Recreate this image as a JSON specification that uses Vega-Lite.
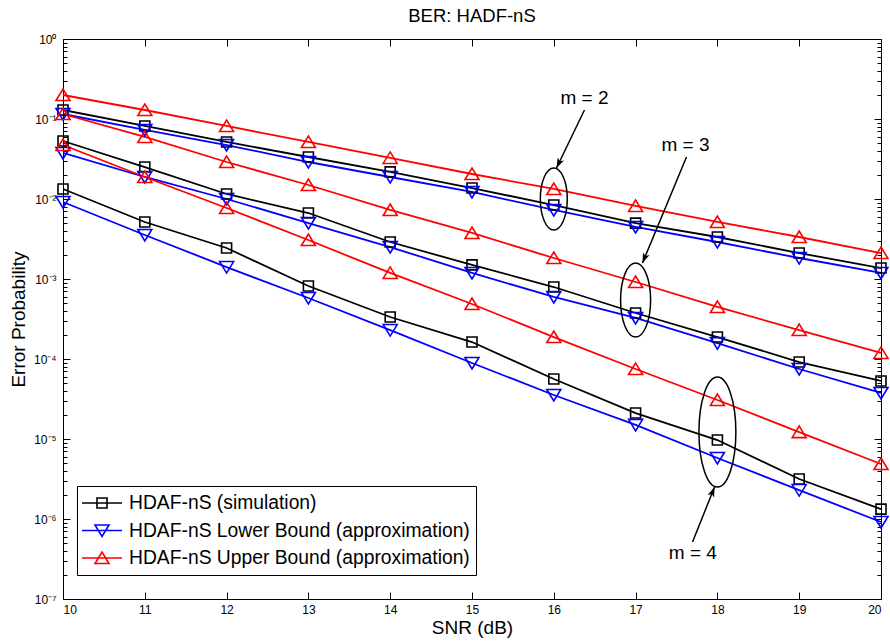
{
  "$schema": "https://vega.github.io/schema/vega-lite/v6.json",
  "width": 818,
  "height": 560,
  "autosize": {"type": "none"},
  "padding": {"left": 63, "top": 39, "right": 8, "bottom": 44},
  "title": {"text": "BER: HADF-nS", "fontSize": 18.5, "fontWeight": "normal", "color": "black", "offset": 8},
  "config": {
    "font": "Liberation Sans",
    "view": {"stroke": "black", "strokeWidth": 1},
    "axis": {"domain": false, "grid": false, "tickColor": "black", "tickWidth": 1, "labelColor": "black", "titleColor": "black", "labelFontSize": 12, "titleFontSize": 19, "titleFontWeight": "normal"}
  },
  "datasets": {
    "curves": [
      {"curve": "HDAF-nS (simulation)", "m": 2, "snr": 10, "ber": 0.1296},
      {"curve": "HDAF-nS (simulation)", "m": 2, "snr": 11, "ber": 0.0818},
      {"curve": "HDAF-nS (simulation)", "m": 2, "snr": 12, "ber": 0.0516},
      {"curve": "HDAF-nS (simulation)", "m": 2, "snr": 13, "ber": 0.0335},
      {"curve": "HDAF-nS (simulation)", "m": 2, "snr": 14, "ber": 0.0218},
      {"curve": "HDAF-nS (simulation)", "m": 2, "snr": 15, "ber": 0.0137},
      {"curve": "HDAF-nS (simulation)", "m": 2, "snr": 16, "ber": 0.0084},
      {"curve": "HDAF-nS (simulation)", "m": 2, "snr": 17, "ber": 0.0050},
      {"curve": "HDAF-nS (simulation)", "m": 2, "snr": 18, "ber": 0.00335},
      {"curve": "HDAF-nS (simulation)", "m": 2, "snr": 19, "ber": 0.00211},
      {"curve": "HDAF-nS (simulation)", "m": 2, "snr": 20, "ber": 0.00137},
      {"curve": "HDAF-nS (simulation)", "m": 3, "snr": 10, "ber": 0.0531},
      {"curve": "HDAF-nS (simulation)", "m": 3, "snr": 11, "ber": 0.0251},
      {"curve": "HDAF-nS (simulation)", "m": 3, "snr": 12, "ber": 0.01155},
      {"curve": "HDAF-nS (simulation)", "m": 3, "snr": 13, "ber": 0.00668},
      {"curve": "HDAF-nS (simulation)", "m": 3, "snr": 14, "ber": 0.0029},
      {"curve": "HDAF-nS (simulation)", "m": 3, "snr": 15, "ber": 0.0015},
      {"curve": "HDAF-nS (simulation)", "m": 3, "snr": 16, "ber": 0.000794},
      {"curve": "HDAF-nS (simulation)", "m": 3, "snr": 17, "ber": 0.000376},
      {"curve": "HDAF-nS (simulation)", "m": 3, "snr": 18, "ber": 0.000188},
      {"curve": "HDAF-nS (simulation)", "m": 3, "snr": 19, "ber": 0.0000917},
      {"curve": "HDAF-nS (simulation)", "m": 3, "snr": 20, "ber": 0.0000531},
      {"curve": "HDAF-nS (simulation)", "m": 4, "snr": 10, "ber": 0.01334},
      {"curve": "HDAF-nS (simulation)", "m": 4, "snr": 11, "ber": 0.00516},
      {"curve": "HDAF-nS (simulation)", "m": 4, "snr": 12, "ber": 0.00244},
      {"curve": "HDAF-nS (simulation)", "m": 4, "snr": 13, "ber": 0.000818},
      {"curve": "HDAF-nS (simulation)", "m": 4, "snr": 14, "ber": 0.000335},
      {"curve": "HDAF-nS (simulation)", "m": 4, "snr": 15, "ber": 0.000163},
      {"curve": "HDAF-nS (simulation)", "m": 4, "snr": 16, "ber": 0.0000562},
      {"curve": "HDAF-nS (simulation)", "m": 4, "snr": 17, "ber": 0.0000211},
      {"curve": "HDAF-nS (simulation)", "m": 4, "snr": 18, "ber": 0.0000097},
      {"curve": "HDAF-nS (simulation)", "m": 4, "snr": 19, "ber": 0.00000316},
      {"curve": "HDAF-nS (simulation)", "m": 4, "snr": 20, "ber": 0.00000133},
      {"curve": "HDAF-nS Lower Bound (approximation)", "m": 2, "snr": 10, "ber": 0.1155},
      {"curve": "HDAF-nS Lower Bound (approximation)", "m": 2, "snr": 11, "ber": 0.0729},
      {"curve": "HDAF-nS Lower Bound (approximation)", "m": 2, "snr": 12, "ber": 0.0473},
      {"curve": "HDAF-nS Lower Bound (approximation)", "m": 2, "snr": 13, "ber": 0.0290},
      {"curve": "HDAF-nS Lower Bound (approximation)", "m": 2, "snr": 14, "ber": 0.01884},
      {"curve": "HDAF-nS Lower Bound (approximation)", "m": 2, "snr": 15, "ber": 0.01224},
      {"curve": "HDAF-nS Lower Bound (approximation)", "m": 2, "snr": 16, "ber": 0.00729},
      {"curve": "HDAF-nS Lower Bound (approximation)", "m": 2, "snr": 17, "ber": 0.00447},
      {"curve": "HDAF-nS Lower Bound (approximation)", "m": 2, "snr": 18, "ber": 0.0029},
      {"curve": "HDAF-nS Lower Bound (approximation)", "m": 2, "snr": 19, "ber": 0.00183},
      {"curve": "HDAF-nS Lower Bound (approximation)", "m": 2, "snr": 20, "ber": 0.00119},
      {"curve": "HDAF-nS Lower Bound (approximation)", "m": 3, "snr": 10, "ber": 0.0376},
      {"curve": "HDAF-nS Lower Bound (approximation)", "m": 3, "snr": 11, "ber": 0.01884},
      {"curve": "HDAF-nS Lower Bound (approximation)", "m": 3, "snr": 12, "ber": 0.01},
      {"curve": "HDAF-nS Lower Bound (approximation)", "m": 3, "snr": 13, "ber": 0.00501},
      {"curve": "HDAF-nS Lower Bound (approximation)", "m": 3, "snr": 14, "ber": 0.00251},
      {"curve": "HDAF-nS Lower Bound (approximation)", "m": 3, "snr": 15, "ber": 0.00119},
      {"curve": "HDAF-nS Lower Bound (approximation)", "m": 3, "snr": 16, "ber": 0.000596},
      {"curve": "HDAF-nS Lower Bound (approximation)", "m": 3, "snr": 17, "ber": 0.000326},
      {"curve": "HDAF-nS Lower Bound (approximation)", "m": 3, "snr": 18, "ber": 0.000158},
      {"curve": "HDAF-nS Lower Bound (approximation)", "m": 3, "snr": 19, "ber": 0.000075},
      {"curve": "HDAF-nS Lower Bound (approximation)", "m": 3, "snr": 20, "ber": 0.0000376},
      {"curve": "HDAF-nS Lower Bound (approximation)", "m": 4, "snr": 10, "ber": 0.00917},
      {"curve": "HDAF-nS Lower Bound (approximation)", "m": 4, "snr": 11, "ber": 0.00355},
      {"curve": "HDAF-nS Lower Bound (approximation)", "m": 4, "snr": 12, "ber": 0.00141},
      {"curve": "HDAF-nS Lower Bound (approximation)", "m": 4, "snr": 13, "ber": 0.000579},
      {"curve": "HDAF-nS Lower Bound (approximation)", "m": 4, "snr": 14, "ber": 0.00023},
      {"curve": "HDAF-nS Lower Bound (approximation)", "m": 4, "snr": 15, "ber": 0.0000891},
      {"curve": "HDAF-nS Lower Bound (approximation)", "m": 4, "snr": 16, "ber": 0.0000355},
      {"curve": "HDAF-nS Lower Bound (approximation)", "m": 4, "snr": 17, "ber": 0.000015},
      {"curve": "HDAF-nS Lower Bound (approximation)", "m": 4, "snr": 18, "ber": 0.00000579},
      {"curve": "HDAF-nS Lower Bound (approximation)", "m": 4, "snr": 19, "ber": 0.0000023},
      {"curve": "HDAF-nS Lower Bound (approximation)", "m": 4, "snr": 20, "ber": 0.000000917},
      {"curve": "HDAF-nS Upper Bound (approximation)", "m": 2, "snr": 10, "ber": 0.1995},
      {"curve": "HDAF-nS Upper Bound (approximation)", "m": 2, "snr": 11, "ber": 0.1296},
      {"curve": "HDAF-nS Upper Bound (approximation)", "m": 2, "snr": 12, "ber": 0.0818},
      {"curve": "HDAF-nS Upper Bound (approximation)", "m": 2, "snr": 13, "ber": 0.0516},
      {"curve": "HDAF-nS Upper Bound (approximation)", "m": 2, "snr": 14, "ber": 0.0326},
      {"curve": "HDAF-nS Upper Bound (approximation)", "m": 2, "snr": 15, "ber": 0.02054},
      {"curve": "HDAF-nS Upper Bound (approximation)", "m": 2, "snr": 16, "ber": 0.01334},
      {"curve": "HDAF-nS Upper Bound (approximation)", "m": 2, "snr": 17, "ber": 0.00818},
      {"curve": "HDAF-nS Upper Bound (approximation)", "m": 2, "snr": 18, "ber": 0.00516},
      {"curve": "HDAF-nS Upper Bound (approximation)", "m": 2, "snr": 19, "ber": 0.00335},
      {"curve": "HDAF-nS Upper Bound (approximation)", "m": 2, "snr": 20, "ber": 0.00211},
      {"curve": "HDAF-nS Upper Bound (approximation)", "m": 3, "snr": 10, "ber": 0.1155},
      {"curve": "HDAF-nS Upper Bound (approximation)", "m": 3, "snr": 11, "ber": 0.0596},
      {"curve": "HDAF-nS Upper Bound (approximation)", "m": 3, "snr": 12, "ber": 0.0290},
      {"curve": "HDAF-nS Upper Bound (approximation)", "m": 3, "snr": 13, "ber": 0.01496},
      {"curve": "HDAF-nS Upper Bound (approximation)", "m": 3, "snr": 14, "ber": 0.00729},
      {"curve": "HDAF-nS Upper Bound (approximation)", "m": 3, "snr": 15, "ber": 0.00376},
      {"curve": "HDAF-nS Upper Bound (approximation)", "m": 3, "snr": 16, "ber": 0.00183},
      {"curve": "HDAF-nS Upper Bound (approximation)", "m": 3, "snr": 17, "ber": 0.000917},
      {"curve": "HDAF-nS Upper Bound (approximation)", "m": 3, "snr": 18, "ber": 0.000447},
      {"curve": "HDAF-nS Upper Bound (approximation)", "m": 3, "snr": 19, "ber": 0.00023},
      {"curve": "HDAF-nS Upper Bound (approximation)", "m": 3, "snr": 20, "ber": 0.000119},
      {"curve": "HDAF-nS Upper Bound (approximation)", "m": 4, "snr": 10, "ber": 0.0473},
      {"curve": "HDAF-nS Upper Bound (approximation)", "m": 4, "snr": 11, "ber": 0.01884},
      {"curve": "HDAF-nS Upper Bound (approximation)", "m": 4, "snr": 12, "ber": 0.00772},
      {"curve": "HDAF-nS Upper Bound (approximation)", "m": 4, "snr": 13, "ber": 0.00307},
      {"curve": "HDAF-nS Upper Bound (approximation)", "m": 4, "snr": 14, "ber": 0.00119},
      {"curve": "HDAF-nS Upper Bound (approximation)", "m": 4, "snr": 15, "ber": 0.000487},
      {"curve": "HDAF-nS Upper Bound (approximation)", "m": 4, "snr": 16, "ber": 0.000188},
      {"curve": "HDAF-nS Upper Bound (approximation)", "m": 4, "snr": 17, "ber": 0.000075},
      {"curve": "HDAF-nS Upper Bound (approximation)", "m": 4, "snr": 18, "ber": 0.0000307},
      {"curve": "HDAF-nS Upper Bound (approximation)", "m": 4, "snr": 19, "ber": 0.0000122},
      {"curve": "HDAF-nS Upper Bound (approximation)", "m": 4, "snr": 20, "ber": 0.00000487}
    ]
  },
  "resolve": {"scale": {"shape": "independent"}, "axis": {"x": "independent", "y": "independent"}},
  "layer": [
    {
      "data": {"name": "curves"},
      "mark": {"type": "line", "strokeWidth": 1.8},
      "encoding": {
        "x": {"field": "snr", "type": "quantitative", "scale": {"domain": [10, 20], "nice": false, "zero": false},
              "axis": {"orient": "bottom", "values": [10, 11, 12, 13, 14, 15, 16, 17, 18, 19, 20], "format": "d", "tickSize": -7, "labelPadding": 12.5, "title": "SNR (dB)", "titlePadding": 3}},
        "y": {"field": "ber", "type": "quantitative", "scale": {"type": "log", "domain": [1e-7, 1], "nice": false},
              "axis": {"orient": "left", "values": [1e-7, 1e-6, 1e-5, 1e-4, 1e-3, 1e-2, 1e-1, 1], "tickSize": -7, "labelPadding": 14,
                       "labelExpr": "'10' + ['⁰','⁻¹','⁻²','⁻³','⁻⁴','⁻⁵','⁻⁶','⁻⁷'][round(-log(datum.value)/LN10)]",
                       "title": "Error Probability", "titlePadding": 5}},
        "color": {"field": "curve", "type": "nominal",
                  "scale": {"domain": ["HDAF-nS (simulation)", "HDAF-nS Lower Bound (approximation)", "HDAF-nS Upper Bound (approximation)"], "range": ["#000000", "#0000ff", "#ff0000"]},
                  "legend": {"title": null, "orient": "none", "legendX": 14, "legendY": 447, "strokeColor": "black", "fillColor": "white", "padding": 6,
                             "labelFontSize": 19.3, "labelColor": "black", "labelLimit": 600, "symbolSize": 400, "symbolOffset": 8, "labelOffset": 16, "rowPadding": 5.5,
                             "symbolStrokeWidth": 1.5,
                             "encode": {"symbols": {"update": {
                               "shape": {"signal": "datum.value === 'HDAF-nS (simulation)' ? 'M-2,0H2M-0.5,-0.5H0.5V0.5H-0.5Z' : datum.value === 'HDAF-nS Lower Bound (approximation)' ? 'M-2,0H2M-0.7,-0.55H0.7L0,0.6Z' : 'M-2,0H2M-0.7,0.55H0.7L0,-0.6Z'"},
                               "fill": {"value": "transparent"},
                               "strokeWidth": {"value": 1.6}}}}}},
        "detail": {"field": "m", "type": "nominal"}
      }
    },
    {
      "data": {"name": "curves"},
      "mark": {"type": "point", "filled": false, "strokeWidth": 1.6, "size": 400, "opacity": 1},
      "encoding": {
        "x": {"field": "snr", "type": "quantitative", "scale": {"domain": [10, 20], "nice": false, "zero": false},
              "axis": {"orient": "top", "values": [10, 11, 12, 13, 14, 15, 16, 17, 18, 19, 20], "tickSize": -7, "labels": false, "title": null}},
        "y": {"field": "ber", "type": "quantitative", "scale": {"type": "log", "domain": [1e-7, 1], "nice": false},
              "axis": {"orient": "right", "values": [1e-7, 1e-6, 1e-5, 1e-4, 1e-3, 1e-2, 1e-1, 1], "tickSize": -7, "labels": false, "title": null}},
        "color": {"field": "curve", "type": "nominal"},
        "shape": {"field": "curve", "type": "nominal", "legend": null,
                  "scale": {"domain": ["HDAF-nS (simulation)", "HDAF-nS Lower Bound (approximation)", "HDAF-nS Upper Bound (approximation)"],
                            "range": ["M-0.5,-0.5H0.5V0.5H-0.5Z", "M-0.7,-0.55H0.7L0,0.6Z", "M-0.7,0.55H0.7L0,-0.6Z"]}}
      }
    },
    {
      "data": {"values": [
        {"group": "m = 2", "snr": 16, "ber": 0.01},
        {"group": "m = 3", "snr": 17, "ber": 0.000546},
        {"group": "m = 4", "snr": 18, "ber": 0.0000122}
      ]},
      "mark": {"type": "point", "filled": false, "stroke": "black", "strokeWidth": 1.5, "size": 12100, "opacity": 1},
      "encoding": {
        "x": {"field": "snr", "type": "quantitative", "scale": {"domain": [10, 20], "nice": false, "zero": false}, "axis": null},
        "y": {"field": "ber", "type": "quantitative", "scale": {"type": "log", "domain": [1e-7, 1], "nice": false},
              "axis": {"orient": "left", "tickSize": -4, "labels": false, "title": null,
                       "values": [2e-7,3e-7,4e-7,5e-7,6e-7,7e-7,8e-7,9e-7,2e-6,3e-6,4e-6,5e-6,6e-6,7e-6,8e-6,9e-6,2e-5,3e-5,4e-5,5e-5,6e-5,7e-5,8e-5,9e-5,2e-4,3e-4,4e-4,5e-4,6e-4,7e-4,8e-4,9e-4,2e-3,3e-3,4e-3,5e-3,6e-3,7e-3,8e-3,9e-3,0.02,0.03,0.04,0.05,0.06,0.07,0.08,0.09,0.2,0.3,0.4,0.5,0.6,0.7,0.8,0.9]}},
        "shape": {"field": "group", "type": "nominal", "legend": null,
                  "scale": {"domain": ["m = 2", "m = 3", "m = 4"],
                            "range": [
                              "M0,-0.564C0.135,-0.564 0.245,-0.312 0.245,0C0.245,0.312 0.135,0.564 0,0.564C-0.135,0.564 -0.245,0.312 -0.245,0C-0.245,-0.312 -0.135,-0.564 0,-0.564Z",
                              "M0,-0.673C0.151,-0.673 0.273,-0.372 0.273,0C0.273,0.372 0.151,0.673 0,0.673C-0.151,0.673 -0.273,0.372 -0.273,0C-0.273,-0.372 -0.151,-0.673 0,-0.673Z",
                              "M0,-1C0.186,-1 0.336,-0.552 0.336,0C0.336,0.552 0.186,1 0,1C-0.186,1 -0.336,0.552 -0.336,0C-0.336,-0.552 -0.186,-1 0,-1Z"
                            ]}}
      }
    },
    {
      "data": {"values": [
        {"group": "m = 2", "x1": 16.375, "y1": 0.1296, "x2": 16.033, "y2": 0.02441},
        {"group": "m = 3", "x1": 17.622, "y1": 0.0335, "x2": 17.084, "y2": 0.001585},
        {"group": "m = 4", "x1": 17.696, "y1": 5.16e-7, "x2": 17.965, "y2": 2.51e-6}
      ]},
      "mark": {"type": "rule", "stroke": "black", "strokeWidth": 1.5},
      "encoding": {
        "x": {"field": "x1", "type": "quantitative", "scale": {"domain": [10, 20], "nice": false, "zero": false}, "axis": null},
        "x2": {"field": "x2"},
        "y": {"field": "y1", "type": "quantitative", "scale": {"type": "log", "domain": [1e-7, 1], "nice": false},
              "axis": {"orient": "right", "tickSize": -4, "labels": false, "title": null,
                       "values": [2e-7,3e-7,4e-7,5e-7,6e-7,7e-7,8e-7,9e-7,2e-6,3e-6,4e-6,5e-6,6e-6,7e-6,8e-6,9e-6,2e-5,3e-5,4e-5,5e-5,6e-5,7e-5,8e-5,9e-5,2e-4,3e-4,4e-4,5e-4,6e-4,7e-4,8e-4,9e-4,2e-3,3e-3,4e-3,5e-3,6e-3,7e-3,8e-3,9e-3,0.02,0.03,0.04,0.05,0.06,0.07,0.08,0.09,0.2,0.3,0.4,0.5,0.6,0.7,0.8,0.9]}},
        "y2": {"field": "y2"}
      }
    },
    {
      "data": {"values": [{"snr": 16.033, "ber": 0.02441}]},
      "mark": {"type": "point", "shape": "M0,0L-0.35,1L0,0.75L0.35,1Z", "size": 400, "angle": 205.8, "filled": true, "color": "black", "opacity": 1},
      "encoding": {
        "x": {"field": "snr", "type": "quantitative", "scale": {"domain": [10, 20], "nice": false, "zero": false}, "axis": null},
        "y": {"field": "ber", "type": "quantitative", "scale": {"type": "log", "domain": [1e-7, 1], "nice": false}, "axis": null}
      }
    },
    {
      "data": {"values": [{"snr": 17.084, "ber": 0.001585}]},
      "mark": {"type": "point", "shape": "M0,0L-0.35,1L0,0.75L0.35,1Z", "size": 400, "angle": 202.5, "filled": true, "color": "black", "opacity": 1},
      "encoding": {
        "x": {"field": "snr", "type": "quantitative", "scale": {"domain": [10, 20], "nice": false, "zero": false}, "axis": null},
        "y": {"field": "ber", "type": "quantitative", "scale": {"type": "log", "domain": [1e-7, 1], "nice": false}, "axis": null}
      }
    },
    {
      "data": {"values": [{"snr": 17.965, "ber": 2.51e-6}]},
      "mark": {"type": "point", "shape": "M0,0L-0.35,1L0,0.75L0.35,1Z", "size": 400, "angle": 21.8, "filled": true, "color": "black", "opacity": 1},
      "encoding": {
        "x": {"field": "snr", "type": "quantitative", "scale": {"domain": [10, 20], "nice": false, "zero": false}, "axis": null},
        "y": {"field": "ber", "type": "quantitative", "scale": {"type": "log", "domain": [1e-7, 1], "nice": false}, "axis": null}
      }
    },
    {
      "data": {"values": [
        {"label": "m = 2", "snr": 16.375, "ber": 0.183},
        {"label": "m = 3", "snr": 17.61, "ber": 0.0473},
        {"label": "m = 4", "snr": 17.7, "ber": 3.76e-7}
      ]},
      "mark": {"type": "text", "fontSize": 19, "color": "black", "align": "center", "baseline": "middle"},
      "encoding": {
        "x": {"field": "snr", "type": "quantitative", "scale": {"domain": [10, 20], "nice": false, "zero": false}, "axis": null},
        "y": {"field": "ber", "type": "quantitative", "scale": {"type": "log", "domain": [1e-7, 1], "nice": false}, "axis": null},
        "text": {"field": "label"}
      }
    }
  ]
}
